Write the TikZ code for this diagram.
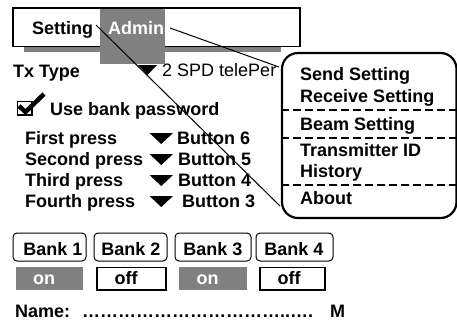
\documentclass[tikz,border=0pt]{standalone}
\usepackage{fontspec}
\setmainfont{Liberation Sans}
\definecolor{tabgray}{HTML}{808080}
\begin{document}
\begin{tikzpicture}[x=1bp,y=-1bp,
  bt/.style={anchor=base west, inner sep=0pt, font=\fontsize{18.07}{20}\selectfont\bfseries},
  rt/.style={anchor=base west, inner sep=0pt, font=\fontsize{18.07}{20}\selectfont},
  ct/.style={anchor=base, inner sep=0pt, font=\fontsize{18.07}{20}\selectfont\bfseries},
  tri/.style={fill=black},
  bankbox/.style={draw=black, line width=1bp, rounded corners=4bp},
  offbox/.style={draw=black, line width=1.3bp, fill=white},
  onbox/.style={fill=tabgray},
  sep/.style={dash pattern=on 8bp off 4bp, line width=1.5bp},
  leader/.style={line width=1bp}]
\useasboundingbox (0,0) rectangle (457,321);
% top bar
\fill[tabgray] (24,46.5) rectangle (281,52);
\draw[line width=1.6bp, fill=white] (13,8) rectangle (300,46.5);
\fill[tabgray] (100,9) rectangle (165,64);
\node[bt] (setting) at (32,34) {Setting};
\node[bt, text=white] (admin) at (108,34) {Admin};
% Tx type
\node[bt] (txtype) at (13,77) {Tx Type};
\fill[tri] (138,65) -- (157,65) -- (147.5,75) -- cycle;
\node[rt] (txval) at (162,76) {2 SPD telePer};
% checkbox
\draw[line width=1.5bp] (17.5,101.5) rectangle (32,115);
\draw[line width=4.5bp, line join=miter] (19,106) -- (25.5,112) -- (44,94);
\node[bt] (usebank) at (50,115) {Use bank password};
% presses
\foreach \lab/\btn/\yy/\bx in {First press/Button 6/144/177, Second press/Button 5/165/178, Third press/Button 4/186/178, Fourth press/Button 3/207/182}{
  \node[bt] at (25,\yy) {\lab};
  \fill[tri] (149.5,\yy-11) -- (173,\yy-11) -- (161.25,\yy) -- cycle;
  \node[bt] at (\bx,\yy) {\btn};
}
% banks
\draw[bankbox] (13,233) rectangle (86,261);
\draw[bankbox] (94,233) rectangle (167,261);
\draw[bankbox] (175,233) rectangle (251,261);
\draw[bankbox] (256,233) rectangle (333,261);
\node[ct] (b1) at (53,255) {Bank 1};
\node[ct] (b2) at (131,255) {Bank 2};
\node[ct] (b3) at (213,255) {Bank 3};
\node[ct] (b4) at (294,255) {Bank 4};
\fill[onbox] (16,267) rectangle (83,290);
\draw[offbox] (97,267.5) rectangle (166,290);
\fill[onbox] (179,267) rectangle (247,290);
\draw[offbox] (260,267.5) rectangle (325,290);
\node[ct, text=white] (s1) at (44,284) {on};
\node[ct] (s2) at (126,284) {off};
\node[ct, text=white] (s3) at (207.5,284) {on};
\node[ct] (s4) at (289,284) {off};
% name
\node[bt] (name) at (15,317) {Name:};
\node[bt] (dots) at (82,317) {……………………………..….};
\node[bt] (m) at (330,317) {M};
% menu
\draw[line width=2.2bp, fill=white, rounded corners=16bp] (282,53) rectangle (456.5,218);
\coordinate (menu) at (282,53);
\draw[sep] (281,110) -- (456,110);
\draw[sep] (281,138) -- (456,138);
\draw[sep] (281,185) -- (456,185);
\node[bt] (m1) at (300,80) {Send Setting};
\node[bt] (m2) at (300,102) {Receive Setting};
\node[bt] (m3) at (300,130) {Beam Setting};
\node[bt] (m4) at (300,156) {Transmitter ID};
\node[bt] (m5) at (300,177) {History};
\node[bt] (m6) at (300,204) {About};
% leader lines
\coordinate (s-end) at (96,25);
\coordinate (a-end) at (170,28);
\coordinate (menu-a) at (279,67);
\coordinate (menu-s) at (280,206);
\draw[leader] (s-end) -- (menu-s);
\draw[leader] (a-end) -- (menu-a);
\end{tikzpicture}
\end{document}
